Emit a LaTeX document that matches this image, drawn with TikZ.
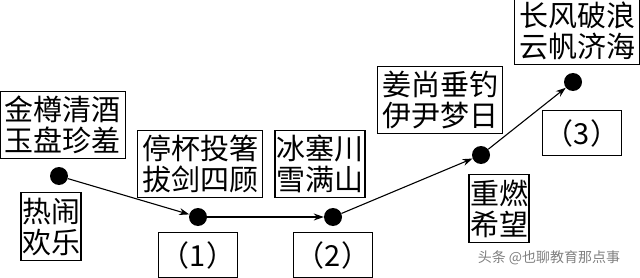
\documentclass[tikz,border=0pt]{standalone}
\usepackage{fontspec}
\setmainfont{Noto Sans CJK SC}
\usetikzlibrary{arrows.meta,positioning}

\begin{document}
\begin{tikzpicture}[
  x=1pt, y=-1pt,
  dot/.style={circle, fill=black, minimum size=18pt, inner sep=0pt},
  box/.style={draw, line width=1.2pt, align=center, inner sep=1pt, font=\fontsize{29}{31}\selectfont},
  poem/.style={box, minimum width=125pt, minimum height=67pt},
  word/.style={box, minimum width=57pt, minimum height=68pt},
  blank/.style={box, minimum width=79pt, minimum height=45pt},
  arrow/.style={-{Stealth[length=10pt,width=7pt]}, line width=1.1pt}
]
\useasboundingbox (0,0) rectangle (640,278);

% stages
\node[dot] (d1) at (59,176) {};
\node[dot] (d2) at (198,217) {};
\node[dot] (d3) at (333,217) {};
\node[dot] (d4) at (481,155) {};
\node[dot] (d5) at (573,82) {};

% texts
\node[poem, above=8pt of d1, xshift=4pt] (jinzun) {金樽清酒\\玉盘珍羞};
\node[word, below=7pt of d1, xshift=-8pt] (renao) {热闹\\欢乐};
\node[poem, above=10pt of d2, xshift=2pt] (tingbei) {停杯投箸\\拔剑四顾};
\node[blank, below=6pt of d2] (q1) {（1）};
\node[poem, minimum width=90pt, above=10pt of d3, xshift=-13pt] (bingsai) {冰塞川\\雪满山};
\node[blank, below=6pt of d3] (q2) {（2）};
\node[word, minimum width=56pt, below=10pt of d4, xshift=18pt] (chongran) {重燃\\希望};
\node[poem, above=12pt of d4, xshift=-41pt] (jiangshang) {姜尚垂钓\\伊尹梦日};
\node[poem, above=8pt of d5, xshift=4pt] (changfeng) {长风破浪\\云帆济海};
\node[blank, below=19pt of d5, xshift=9pt] (q3) {（3）};

\node[font=\fontsize{14}{14}\selectfont, text=gray] (mark) at (549,258) {头条 @也聊教育那点事};

\draw[arrow] (d1) -- (d2);
\draw[arrow] (d2) -- (d3);
\draw[arrow] (d3) -- (d4);
\draw[arrow] (d4) -- (d5);
\end{tikzpicture}
\end{document}
